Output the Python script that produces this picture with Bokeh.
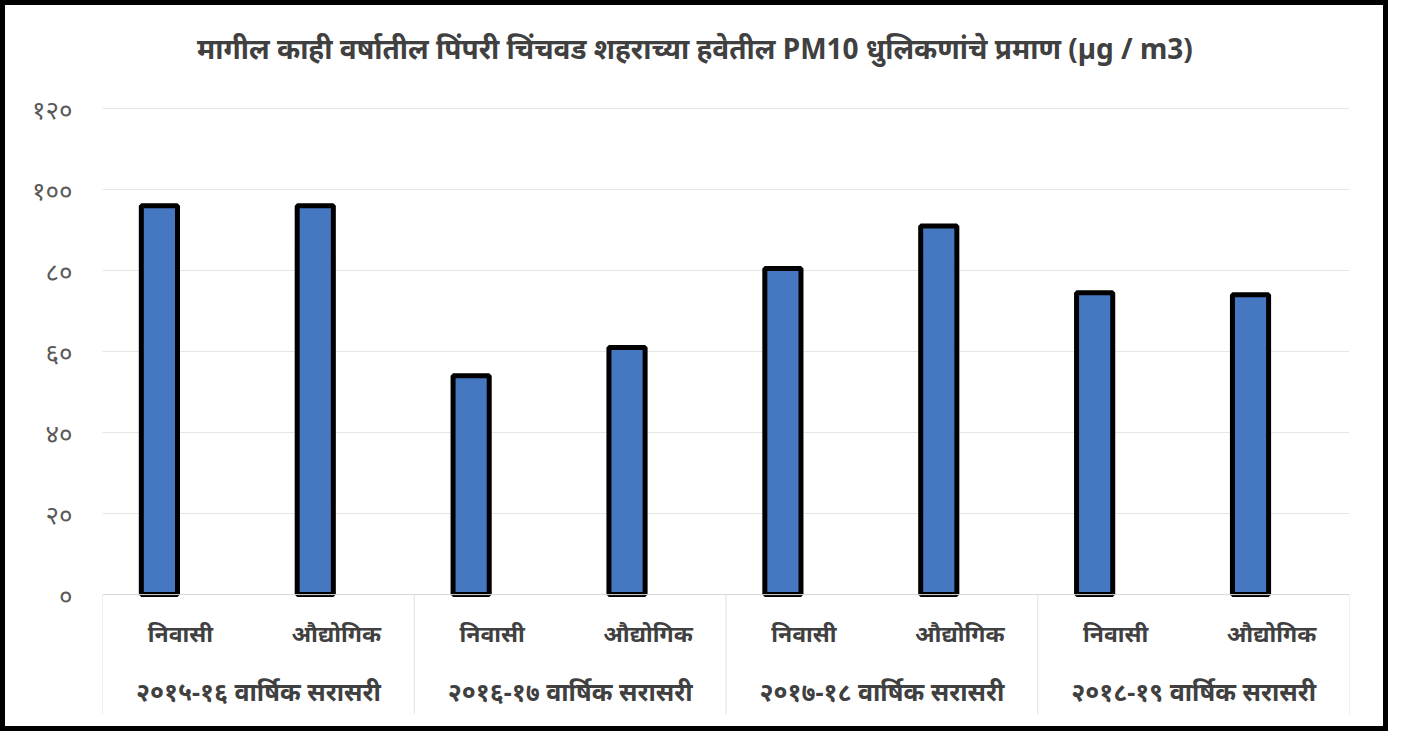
from bokeh.plotting import figure
from bokeh.models import FactorRange, Range1d, FixedTicker, Span, ColumnDataSource
from bokeh.transform import dodge
from bokeh.core.properties import value
from bokeh.embed import file_html
from bokeh.resources import INLINE

# ---------------- data ----------------
title_text = "मागील काही वर्षातील पिंपरी चिंचवड शहराच्या हवेतील PM10 धुलिकणांचे प्रमाण (µg / m3)"
years = ["२०१५-१६ वार्षिक सरासरी", "२०१६-१७ वार्षिक सरासरी",
         "२०१७-१८ वार्षिक सरासरी", "२०१८-१९ वार्षिक सरासरी"]
zones = ["निवासी", "औद्योगिक"]
pm10 = [96, 96, 54, 61, 80.5, 91, 74.5, 74]
y_ticks = [0, 20, 40, 60, 80, 100, 120]
y_tick_labels = ["०", "२०", "४०", "६०", "८०", "१००", "१२०"]

# ---------------- layout constants ----------------
Y_MIN, Y_MAX = -29.6, 141.73
TITLE_Y = 135
TITLE_SHIFT = -0.20
SUB_LABEL_Y = -9.4
GROUP_LABEL_Y = -23.9
FONT = "Noto Sans"
W, H = 1388, 731

factors = [(y, z) for y in years for z in zones]
x_range = FactorRange(factors=factors, factor_padding=0, group_padding=0, range_padding=0)

p = figure(x_range=x_range, y_range=Range1d(Y_MIN, Y_MAX), width=W, height=H,
           title=None, output_backend="svg", toolbar_location=None,
           min_border_left=97, min_border_right=44, min_border_top=15, min_border_bottom=22)
p.styles = {"border": "5px solid black"}
p.outline_line_color = None
p.background_fill_color = "white"

# axes
p.xaxis.visible = False
yax = p.yaxis[0]
yax.ticker = FixedTicker(ticks=y_ticks)
yax.major_label_overrides = {t: l for t, l in zip(y_ticks, y_tick_labels)}
yax.axis_line_color = None
yax.major_tick_line_color = None
yax.minor_tick_line_color = None
yax.major_label_standoff = 24
yax.major_label_text_font = FONT
yax.major_label_text_font_size = "26px"
yax.major_label_text_color = "#595959"

p.xgrid.visible = False
p.ygrid.ticker = FixedTicker(ticks=y_ticks)
p.ygrid.grid_line_color = "#e6e6e6"

# category axis baseline
p.add_layout(Span(location=0, dimension="width", line_color="#d9d9d9", line_width=1))

# group separators
sep_src = ColumnDataSource(dict(x=[(y, zones[0]) for y in years]))
p.segment(x0=dodge("x", -0.5, range=x_range), x1=dodge("x", -0.5, range=x_range),
          y0=0, y1=Y_MIN, source=sep_src, line_color="#e0e0e0", line_width=1)
end_src = ColumnDataSource(dict(x=[(years[-1], zones[-1])]))
p.segment(x0=dodge("x", 0.5, range=x_range), x1=dodge("x", 0.5, range=x_range),
          y0=0, y1=Y_MIN, source=end_src, line_color="#e0e0e0", line_width=1)

# bars
src = ColumnDataSource(dict(x=factors, top=pm10))
p.vbar(x=dodge("x", -0.135, range=x_range), top="top", bottom=0, width=0.232, source=src,
       fill_color="#4677C1", line_color="black", line_width=5)

# title (centred just left of the middle of the category range)
title_src = ColumnDataSource(dict(x=[(years[1], zones[1])], label=[title_text]))
p.text(x=dodge("x", 0.5 + TITLE_SHIFT, range=x_range), y=TITLE_Y, text="label",
       source=title_src, text_align="center", text_baseline="middle",
       text_font=value(FONT), text_font_size="28px", text_font_style="bold",
       text_color="#404040")

# category labels
sub_src = ColumnDataSource(dict(x=factors, label=[f[1] for f in factors]))
p.text(x="x", y=SUB_LABEL_Y, text="label", source=sub_src, text_align="center",
       text_baseline="middle", text_font=value(FONT), text_font_size="23px",
       text_font_style="bold", text_color="#404040")
grp_src = ColumnDataSource(dict(x=years, label=years))
p.text(x="x", y=GROUP_LABEL_Y, text="label", source=grp_src, text_align="center",
       text_baseline="middle", text_font=value(FONT), text_font_size="25px",
       text_font_style="bold", text_color="#404040")

open("out.html", "w").write(file_html(p, INLINE))
